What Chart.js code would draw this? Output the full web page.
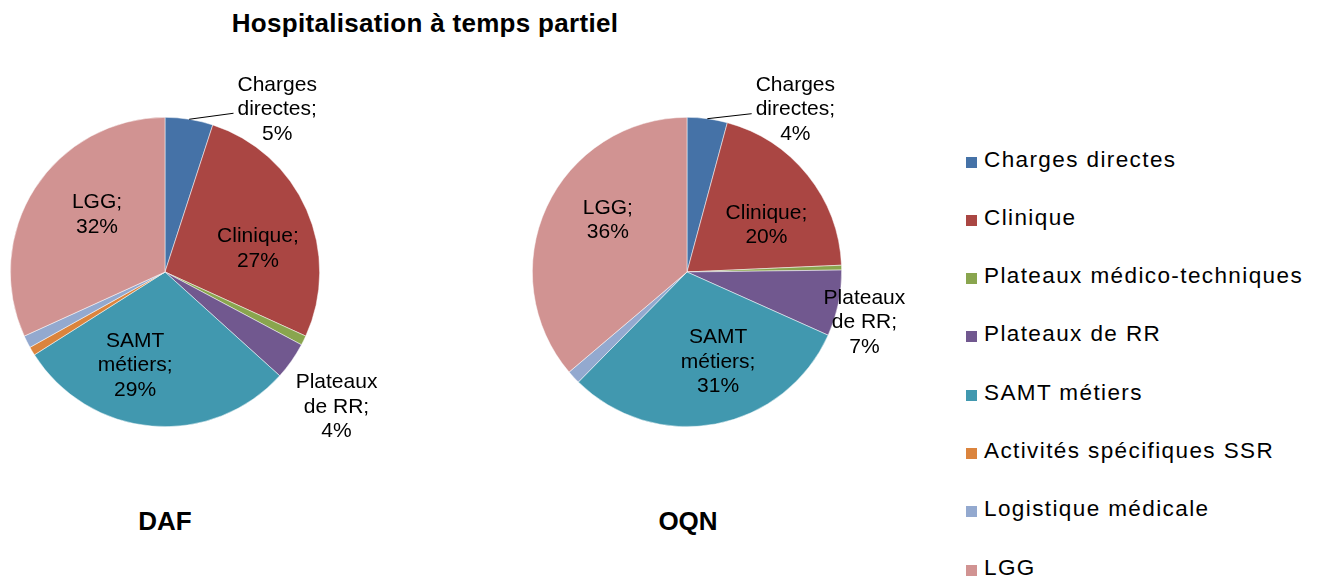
<!DOCTYPE html>
<html lang="fr">
<head>
<meta charset="utf-8">
<title>Hospitalisation à temps partiel</title>
<script src="https://cdn.jsdelivr.net/npm/chart.js@4"></script>
<style>
  body { margin: 0; width: 1317px; height: 577px; background: #fff; position: relative; overflow: hidden;
         font-family: "Liberation Sans", Arial, sans-serif; color: #000; }
  .abs { position: absolute; }
  #title { left: 0; width: 850px; top: 10px; text-align: center; font-size: 26px; line-height: 26px; font-weight: bold; letter-spacing: 0.3px; }
  .sub { width: 200px; top: 508px; text-align: center; font-size: 26px; line-height: 26px; font-weight: bold; }
  #legend { left: 966px; top: 0; }
  .item { position: absolute; left: 0; white-space: nowrap; font-size: 22.5px; line-height: 22px; letter-spacing: 1.4px; }
  .item i { position: absolute; left: 0; top: 8px; width: 11px; height: 11px; }
  .item span { position: absolute; left: 18px; top: 0; }
</style>
</head>
<body>
<div id="title" class="abs">Hospitalisation à temps partiel</div>
<div class="abs" style="left:0;top:60px;width:460px;height:400px"><canvas id="pieDAF"></canvas></div>
<div class="abs" style="left:470px;top:60px;width:470px;height:400px"><canvas id="pieOQN"></canvas></div>
<div class="abs sub" style="left:65px">DAF</div>
<div class="abs sub" style="left:588px">OQN</div>
<div id="legend" class="abs"></div>

<script>
const categories = ['Charges directes', 'Clinique', 'Plateaux médico-techniques', 'Plateaux de RR',
                    'SAMT métiers', 'Activités spécifiques SSR', 'Logistique médicale', 'LGG'];
const dafValues = [5.0, 26.8, 1.0, 3.9, 29.3, 0.9, 1.3, 31.8];
const oqnValues = [4.2, 20.1, 0.5, 6.9, 30.7, 0.0, 1.4, 36.2];
// Libellés coupés comme dans l'original
const wrappedNames = [['Charges', 'directes;'], ['Clinique;'], ['Plateaux', 'médico-techniques;'], ['Plateaux', 'de RR;'],
                      ['SAMT', 'métiers;'], ['Activités', 'spécifiques SSR;'], ['Logistique', 'médicale;'], ['LGG;']];

const colors = ['#4572A7', '#AA4643', '#89A54E', '#71588F', '#4198AF', '#DB843D', '#93A9CF', '#D19392'];

// Placement des étiquettes : f = fraction du rayon, dx/dy = décalage, leader = trait de rappel
const dafLabels = [
  { index: 0, f: 1, dx: 88, dy: -10, leader: true },
  { index: 1, f: 0.6, dx: 8, dy: 14 },
  { index: 3, f: 1, dx: 45, dy: 46 },
  { index: 4, f: 0.6, dx: -22, dy: 1 },
  { index: 7, f: 0.6, dx: 10, dy: -7 }
];
const oqnLabels = [
  { index: 0, f: 1, dx: 88, dy: -9, leader: true },
  { index: 1, f: 0.6, dx: 7, dy: 11 },
  { index: 3, f: 1, dx: 26, dy: 19 },
  { index: 4, f: 0.6, dx: 14, dy: -1 },
  { index: 7, f: 0.6, dx: 5, dy: -13 }
];

// Légende HTML
const legend = document.getElementById('legend');
categories.forEach((name, i) => {
  const row = document.createElement('div');
  row.className = 'item';
  row.style.top = (148.5 + i * 58.3) + 'px';
  row.innerHTML = '<i style="background:' + colors[i] + '"></i><span>' + name + '</span>';
  legend.appendChild(row);
});

// Étiquettes de données façon Excel
const pieLabels = {
  id: 'pieLabels',
  afterDatasetsDraw(chart, args, opts) {
    const ctx = chart.ctx;
    const meta = chart.getDatasetMeta(0);
    const values = chart.data.datasets[0].data;
    const total = values.reduce((a, b) => a + b, 0);
    ctx.save();
    ctx.font = '21px "Liberation Sans", Arial, sans-serif';
    ctx.fillStyle = '#000';
    ctx.strokeStyle = '#000';
    ctx.lineWidth = 1;
    ctx.textAlign = 'center';
    ctx.textBaseline = 'middle';
    const lineH = 24.5;
    opts.specs.forEach(s => {
      const arc = meta.data[s.index];
      const p = arc.getProps(['x', 'y', 'startAngle', 'endAngle', 'outerRadius'], true);
      const mid = (p.startAngle + p.endAngle) / 2;
      const ax = p.x + Math.cos(mid) * p.outerRadius * s.f;
      const ay = p.y + Math.sin(mid) * p.outerRadius * s.f;
      const cx = ax + s.dx, cy = ay + s.dy;
      const pct = Math.round(values[s.index] / total * 100) + '%';
      const lines = wrappedNames[s.index].concat([pct]);
      if (s.leader) {
        const midLine = lines[Math.floor((lines.length - 1) / 2)];
        const w = ctx.measureText(midLine).width;
        ctx.beginPath();
        ctx.moveTo(ax, ay);
        ctx.lineTo(cx - w / 2 - 4, cy + 4);
        ctx.stroke();
      }
      lines.forEach((t, k) => {
        ctx.fillText(t, cx, cy + (k - (lines.length - 1) / 2) * lineH);
      });
    });
    ctx.restore();
  }
};

function makePie(id, values, specs, padding) {
  new Chart(document.getElementById(id), {
    type: 'pie',
    data: {
      labels: categories,
      datasets: [{
        data: values,
        backgroundColor: colors,
        borderColor: 'rgba(255,255,255,0.7)',
        borderWidth: 0.7
      }]
    },
    options: {
      responsive: true,
      maintainAspectRatio: false,
      animation: false,
      layout: { padding: padding },
      plugins: {
        legend: { display: false },
        tooltip: { enabled: false },
        pieLabels: { specs: specs }
      }
    },
    plugins: [pieLabels]
  });
}

makePie('pieDAF', dafValues, dafLabels, { left: 10, top: 57, right: 140, bottom: 33 });
makePie('pieOQN', oqnValues, oqnLabels, { left: 62, top: 57, right: 98, bottom: 33 });
</script>
</body>
</html>
